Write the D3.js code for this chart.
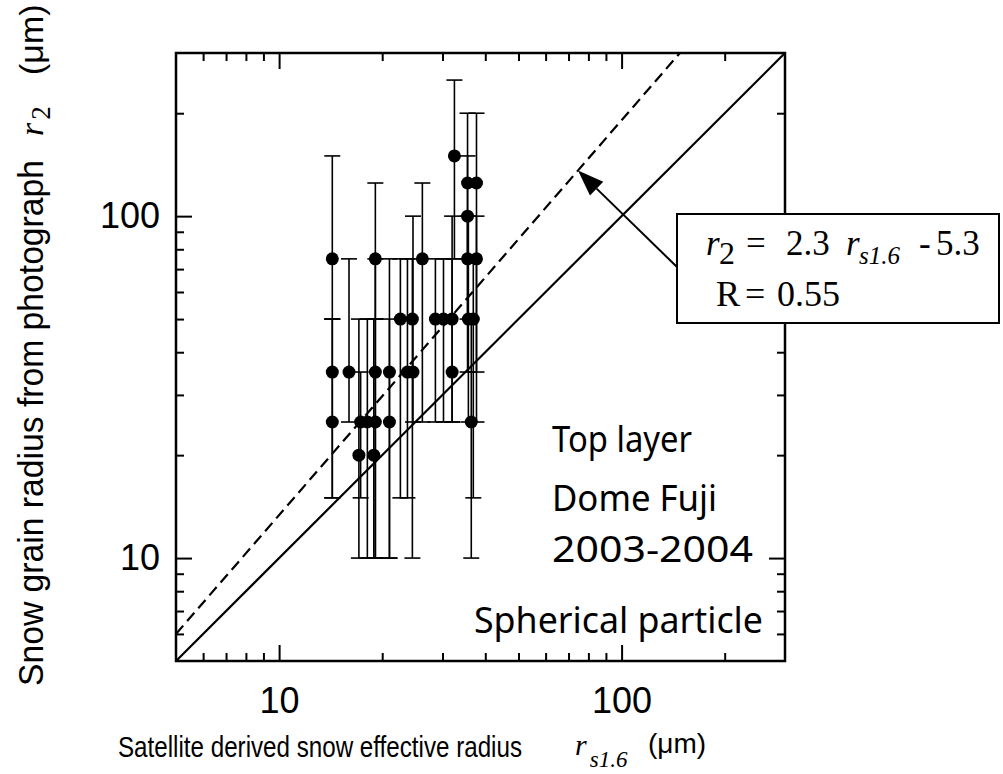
<!DOCTYPE html>
<html>
<head>
<meta charset="utf-8">
<script src="https://cdn.jsdelivr.net/npm/d3@7"></script>
<style>
  body { margin: 0; background: #fff; }
  svg { display: block; }
</style>
</head>
<body>
<svg id="chart" width="1003" height="774"></svg>
<script>
// Satellite derived snow effective radius r_s1.6 (μm), one entry per sample
const rsEffective = [14.3, 14.3, 14.3, 16.0, 17.1, 17.3, 18.1, 18.9, 19.1, 19.1, 19.1,
                     21.0, 21.0, 22.6, 23.7, 24.5, 24.6, 26.2, 28.6, 30.2, 32.0, 32.0,
                     32.5, 35.5, 35.5, 35.5, 35.7, 36.4, 36.9, 37.7, 37.7];
// Snow grain radius from photograph r_2 (μm)
const r2Photo = [75, 35, 25, 35, 20, 25, 25, 20, 75, 35, 25,
                 35, 25, 50, 35, 50, 35, 75, 50, 50, 50, 35,
                 150, 125, 100, 75, 50, 25, 50, 125, 75];
// Lower and upper ends of the observed grain size range
const r2Low  = [50, 15, 15, 25, 10, 15, 10, 10, 50, 10, 10,
                10, 10, 15, 15, 10, 25, 25, 25, 25, 25, 25,
                75, 75, 50, 35, 25, 10, 15, 35, 25];
const r2High = [150, 50, 50, 75, 50, 35, 50, 50, 125, 75, 50,
                75, 50, 75, 75, 75, 100, 125, 75, 75, 100, 75,
                250, 200, 150, 100, 100, 50, 75, 200, 100];

// Axis ranges and ticks (log–log)
const axisDomain = [5, 300];
const majorTicks = [10, 100];
const minorTicks = [6, 7, 8, 9, 20, 30, 40, 50, 60, 70, 80, 90, 200];

// Reference lines: 1:1 and the regression through the samples
const oneToOne = [[5, 5], [300, 300]];
const fitLine = [[5, 6.0], [148, 300]];
const arrowTarget = 74.6;   // r_s1.6 where the arrow meets the regression line

const siteLabels = ["Top layer", "Dome Fuji", "2003-2004"];
const modelLabel = "Spherical particle";

const samples = rsEffective.map((rs, i) => ({
  rs, r2: r2Photo[i], lo: r2Low[i], hi: r2High[i]
}));

const svg = d3.select("#chart");
const plotL = 176, plotR = 785, plotT = 53, plotB = 661;

const x = d3.scaleLog().domain(axisDomain).range([plotL, plotR]);
const y = d3.scaleLog().domain(axisDomain).range([plotB, plotT]);

const SANS = "'Liberation Sans', Arial, Helvetica, sans-serif";
const SERIF = "'Liberation Serif', 'Times New Roman', serif";
const LABEL = "'Noto Sans', 'Open Sans', sans-serif";

// clip region for the plot interior
svg.append("defs").append("clipPath").attr("id", "plot-clip")
  .append("rect").attr("x", plotL).attr("y", plotT)
  .attr("width", plotR - plotL).attr("height", plotB - plotT);

const plot = svg.append("g").attr("clip-path", "url(#plot-clip)");

// reference lines
const line = d3.line().x(d => x(d[0])).y(d => y(d[1]));
plot.append("path").datum(oneToOne).attr("d", line)
  .attr("fill", "none").attr("stroke", "#000").attr("stroke-width", 2.2);
plot.append("path").datum(fitLine).attr("d", line)
  .attr("fill", "none").attr("stroke", "#000").attr("stroke-width", 2.2)
  .attr("stroke-dasharray", "11,6");

// error bars
const capHalf = 8;
const bars = plot.append("g").attr("stroke", "#000").attr("stroke-width", 1.6);
bars.selectAll("line.stem").data(samples).join("line").attr("class", "stem")
  .attr("x1", d => x(d.rs)).attr("x2", d => x(d.rs))
  .attr("y1", d => y(d.lo)).attr("y2", d => y(d.hi));
bars.selectAll("line.cap-hi").data(samples).join("line").attr("class", "cap-hi")
  .attr("x1", d => x(d.rs) - capHalf).attr("x2", d => x(d.rs) + capHalf)
  .attr("y1", d => y(d.hi)).attr("y2", d => y(d.hi));
bars.selectAll("line.cap-lo").data(samples).join("line").attr("class", "cap-lo")
  .attr("x1", d => x(d.rs) - capHalf).attr("x2", d => x(d.rs) + capHalf)
  .attr("y1", d => y(d.lo)).attr("y2", d => y(d.lo));

// sample points
plot.append("g").selectAll("circle").data(samples).join("circle")
  .attr("cx", d => x(d.rs)).attr("cy", d => y(d.r2)).attr("r", 6.5)
  .attr("fill", "#000");

// frame
svg.append("rect").attr("x", plotL).attr("y", plotT)
  .attr("width", plotR - plotL).attr("height", plotB - plotT)
  .attr("fill", "none").attr("stroke", "#000").attr("stroke-width", 2.5);

// ticks on all four sides, pointing inward
function ticks(axisGen, transform, values, len, labels, pad) {
  const g = svg.append("g").attr("transform", transform)
    .call(axisGen.tickValues(values).tickSize(-len).tickPadding(pad)
      .tickFormat(labels ? d3.format("d") : ""));
  g.select(".domain").remove();
  g.selectAll(".tick line").attr("stroke", "#000").attr("stroke-width", 2);
  g.attr("font-family", SANS).attr("font-size", 36);
  g.selectAll(".tick text").attr("fill", "#000");
  return g;
}
ticks(d3.axisBottom(x), `translate(0,${plotB})`, minorTicks, 8, false, 0);
ticks(d3.axisBottom(x), `translate(0,${plotB})`, majorTicks, 16, true, 26);
ticks(d3.axisTop(x), `translate(0,${plotT})`, minorTicks, 8, false, 0);
ticks(d3.axisTop(x), `translate(0,${plotT})`, majorTicks, 16, false, 0);
ticks(d3.axisLeft(y), `translate(${plotL},0)`, minorTicks, 8, false, 0);
ticks(d3.axisLeft(y), `translate(${plotL},0)`, majorTicks, 16, true, 16);
ticks(d3.axisRight(y), `translate(${plotR},0)`, minorTicks, 8, false, 0);
ticks(d3.axisRight(y), `translate(${plotR},0)`, majorTicks, 16, false, 0);

// x axis title
const xTitle = svg.append("g").attr("fill", "#000");
xTitle.append("text").attr("x", 118).attr("y", 757)
  .attr("font-family", SANS).attr("font-size", 29)
  .attr("textLength", 404).attr("lengthAdjust", "spacingAndGlyphs")
  .text("Satellite derived snow effective radius");
const xSym = xTitle.append("text").attr("x", 575).attr("y", 755)
  .attr("font-family", SERIF).attr("font-style", "italic").attr("font-size", 30);
xSym.append("tspan").text("r");
xSym.append("tspan").attr("dx", 3).attr("dy", 12).attr("font-size", 23).text("s1.6");
xTitle.append("text").attr("x", 648).attr("y", 753)
  .attr("font-family", SANS).attr("font-size", 28).text("(μm)");

// y axis title (rotated)
const yTitle = svg.append("g").attr("transform", "translate(43,686) rotate(-90)").attr("fill", "#000");
yTitle.append("text").attr("x", 0).attr("y", 0)
  .attr("font-family", SANS).attr("font-size", 35)
  .attr("textLength", 526).attr("lengthAdjust", "spacingAndGlyphs")
  .text("Snow grain radius from photograph");
const ySym = yTitle.append("text").attr("x", 550).attr("y", 0)
  .attr("font-family", SERIF).attr("font-size", 34);
ySym.append("tspan").attr("font-style", "italic").text("r");
ySym.append("tspan").attr("dx", 3).attr("dy", 7).attr("font-size", 27).text("2");
yTitle.append("text").attr("x", 611).attr("y", 0)
  .attr("font-family", SANS).attr("font-size", 34).text("(μm)");

// site and model labels
const siteY = [452, 511, 562];
const siteWidths = [140, 165, 201];
svg.append("g").selectAll("text").data(siteLabels).join("text")
  .attr("x", 552).attr("y", (d, i) => siteY[i])
  .attr("font-family", LABEL).attr("font-size", 36).attr("fill", "#000")
  .attr("textLength", (d, i) => siteWidths[i]).attr("lengthAdjust", "spacingAndGlyphs")
  .text(d => d);
svg.append("text").attr("x", 474).attr("y", 633)
  .attr("font-family", LABEL).attr("font-size", 36).attr("fill", "#000")
  .attr("textLength", 289).attr("lengthAdjust", "spacingAndGlyphs")
  .text(modelLabel);

// regression annotation: arrow and equation box
const t = (Math.log(arrowTarget) - Math.log(fitLine[0][0])) /
          (Math.log(fitLine[1][0]) - Math.log(fitLine[0][0]));
const tipY = Math.exp(Math.log(fitLine[0][1]) + t * (Math.log(fitLine[1][1]) - Math.log(fitLine[0][1])));
const tip = [x(arrowTarget), y(tipY)];
const tail = [677, 267];
const ang = Math.atan2(tail[1] - tip[1], tail[0] - tip[0]);
const headLen = 26, headHalf = 9.5;
const base = [tip[0] + headLen * Math.cos(ang), tip[1] + headLen * Math.sin(ang)];
svg.append("line").attr("x1", base[0]).attr("y1", base[1])
  .attr("x2", tail[0]).attr("y2", tail[1])
  .attr("stroke", "#000").attr("stroke-width", 2);
svg.append("polygon")
  .attr("points", [
    tip,
    [base[0] - headHalf * Math.sin(ang), base[1] + headHalf * Math.cos(ang)],
    [base[0] + headHalf * Math.sin(ang), base[1] - headHalf * Math.cos(ang)]
  ].map(p => p.join(",")).join(" "))
  .attr("fill", "#000");

svg.append("rect").attr("x", 677).attr("y", 214).attr("width", 322).attr("height", 109)
  .attr("fill", "#fff").attr("stroke", "#000").attr("stroke-width", 2);

const eq = svg.append("text").attr("y", 255)
  .attr("font-family", SERIF).attr("font-size", 35).attr("fill", "#000");
eq.append("tspan").attr("x", 706).attr("font-style", "italic").text("r");
eq.append("tspan").attr("x", 719).attr("dy", 9).attr("font-size", 32).text("2");
eq.append("tspan").attr("x", 746).attr("dy", -9).text("=");
eq.append("tspan").attr("x", 786).text("2.3");
eq.append("tspan").attr("x", 846).attr("font-style", "italic").text("r");
eq.append("tspan").attr("x", 859).attr("dy", 9).attr("font-style", "italic")
  .attr("font-size", 25).text("s1.6");
eq.append("tspan").attr("x", 919).attr("dy", -9).text("-");
eq.append("tspan").attr("x", 936).text("5.3");

const rt = svg.append("text").attr("y", 306)
  .attr("font-family", SERIF).attr("font-size", 36).attr("fill", "#000");
rt.append("tspan").attr("x", 716).text("R");
rt.append("tspan").attr("x", 745).text("=");
rt.append("tspan").attr("x", 777).text("0.55");
</script>
</body>
</html>
